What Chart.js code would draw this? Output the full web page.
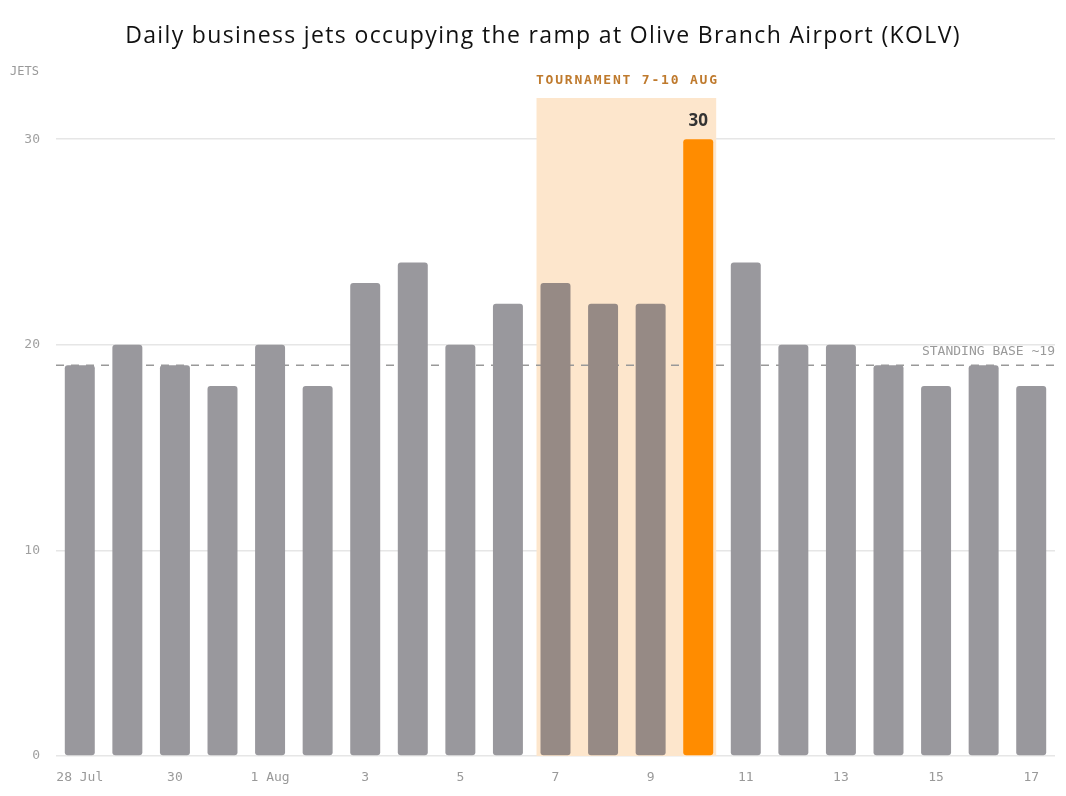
<!DOCTYPE html>
<html>
<head>
    <title>KOLV ramp</title>
    <style>
        body {
            margin: 0;
            background-color: #ffffff;
        }

        #chartBox {
            width: 1066px;
            height: 796px;
        }
    </style>
    <script src="https://cdn.jsdelivr.net/npm/chart.js"></script>
</head>
<body>
    <div id="chartBox">
        <canvas id="rampChart"></canvas>
    </div>

    <script>
        var days = ['28 Jul', '29', '30', '31', '1 Aug', '2', '3', '4', '5', '6', '7',
                    '8', '9', '10', '11', '12', '13', '14', '15', '16', '17'];
        var jets = [19, 20, 19, 18, 20, 18, 23, 24, 20, 22, 23, 22, 22, 30, 24, 20, 20, 19, 18, 19, 18];
        var yTicks = [0, 10, 20, 30];
        var tournamentFirst = 10;   // 7 Aug
        var tournamentLast = 13;    // 10 Aug
        var peakIndex = 13;
        var standingBase = 19;

        var monoFont = '"DejaVu Sans Mono", "Liberation Mono", monospace';
        var sansFont = '"Open Sans", "Noto Sans", sans-serif';

        var barColors = jets.map(function (v, i) {
            if (i === peakIndex) return '#ff8c00';
            if (i >= tournamentFirst && i <= tournamentLast) return '#968a85';
            return '#99989d';
        });

        var annotations = {
            id: 'annotations',
            beforeDatasetsDraw: function (chart) {
                var ctx = chart.ctx;
                var area = chart.chartArea;
                var y = chart.scales.y;
                var meta = chart.getDatasetMeta(0);
                var first = meta.data[tournamentFirst];
                var last = meta.data[tournamentLast];
                var left = first.x - first.width / 2 - 4;
                var right = last.x + last.width / 2 + 3;
                ctx.save();
                ctx.fillStyle = '#fde6cc';
                ctx.fillRect(left, area.top, right - left, area.bottom - area.top);

                // standing base line, behind the bars
                var yb = y.getPixelForValue(standingBase);
                ctx.strokeStyle = '#999999';
                ctx.lineWidth = 1.5;
                ctx.setLineDash([8, 7]);
                ctx.beginPath();
                ctx.moveTo(area.left, yb);
                ctx.lineTo(area.right, yb);
                ctx.stroke();
                ctx.restore();
            },
            afterDatasetsDraw: function (chart) {
                var ctx = chart.ctx;
                var area = chart.chartArea;
                var y = chart.scales.y;
                var meta = chart.getDatasetMeta(0);
                var first = meta.data[tournamentFirst];
                var last = meta.data[tournamentLast];
                var peak = meta.data[peakIndex];

                ctx.save();
                // title
                ctx.fillStyle = '#111111';
                ctx.font = '23px ' + sansFont;
                ctx.textAlign = 'center';
                ctx.textBaseline = 'middle';
                ctx.letterSpacing = '1.35px';
                ctx.fillText('Daily business jets occupying the ramp at Olive Branch Airport (KOLV)', 543, 36);
                ctx.letterSpacing = '0px';

                // axis unit
                ctx.fillStyle = '#999999';
                ctx.font = '12px ' + monoFont;
                ctx.textAlign = 'left';
                ctx.fillText('JETS', 10, 72);

                // standing base label
                var yb = y.getPixelForValue(standingBase);
                ctx.font = '13px ' + monoFont;
                ctx.fillStyle = '#9a9a9a';
                ctx.textAlign = 'right';
                ctx.fillText('STANDING BASE ~19', area.right, yb - 14);

                // tournament label
                var left = first.x - first.width / 2 - 4;
                var right = last.x + last.width / 2 + 3;
                ctx.font = 'bold 13px ' + monoFont;
                ctx.fillStyle = '#bf7a2d';
                ctx.textAlign = 'center';
                ctx.letterSpacing = '1.8px';
                ctx.fillText('TOURNAMENT 7-10 AUG', (left + right) / 2 + 1, area.top - 17);
                ctx.letterSpacing = '0px';

                // peak value
                ctx.font = 'bold 17px ' + sansFont;
                ctx.fillStyle = '#333333';
                ctx.fillText(String(jets[peakIndex]), peak.x, peak.y - 18);
                ctx.restore();
            }
        };

        new Chart(document.getElementById('rampChart'), {
            type: 'bar',
            data: {
                labels: days,
                datasets: [{
                    data: jets,
                    backgroundColor: barColors,
                    borderRadius: 3,
                    borderSkipped: false,
                    barPercentage: 0.63,
                    categoryPercentage: 1
                }]
            },
            options: {
                responsive: true,
                maintainAspectRatio: false,
                animation: false,
                layout: {
                    padding: { top: 98, right: 11, left: 0, bottom: 0 }
                },
                plugins: {
                    legend: { display: false },
                    tooltip: { enabled: false }
                },
                scales: {
                    x: {
                        grid: { display: false },
                        border: { display: false },
                        ticks: {
                            autoSkip: false,
                            maxRotation: 0,
                            padding: 6,
                            color: '#999999',
                            font: { family: monoFont, size: 13 },
                            callback: function (value, index) {
                                return index % 2 === 0 ? days[index] : '';
                            }
                        },
                        afterFit: function (scale) {
                            scale.height = 40;
                        }
                    },
                    y: {
                        min: 0,
                        max: 32,
                        border: { display: false },
                        grid: { color: '#e6e6e6', lineWidth: 1.5, drawTicks: false },
                        afterBuildTicks: function (scale) {
                            scale.ticks = yTicks.map(function (v) { return { value: v }; });
                        },
                        ticks: {
                            padding: 16,
                            color: '#a0a0a0',
                            font: { family: monoFont, size: 13 }
                        },
                        afterFit: function (scale) {
                            scale.width = 56;
                        }
                    }
                }
            },
            plugins: [annotations]
        });
    </script>
</body>
</html>
